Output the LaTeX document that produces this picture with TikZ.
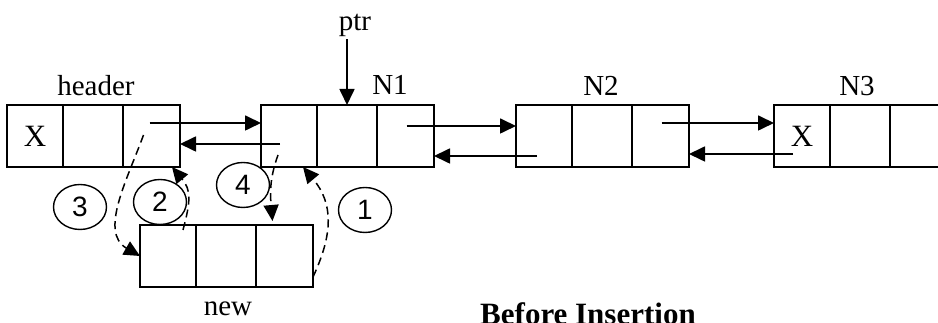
\documentclass[tikz,border=0pt]{standalone}
\usepackage{fontspec}
\setmainfont{Liberation Serif}
\setsansfont{Liberation Sans}
\usetikzlibrary{arrows.meta,positioning,calc,shapes.geometric}

\begin{document}
\begin{tikzpicture}[x=1pt,y=1pt,
    cellA/.style={draw, line width=1.8pt, minimum width=56pt, minimum height=62pt,
      inner sep=0pt, outer sep=0pt, font=\fontsize{31}{34}\selectfont},
    cellB/.style={cellA, minimum width=60pt},
    cellC/.style={cellA, minimum width=57pt},
    lbl/.style={anchor=base, inner sep=2pt, font=\fontsize{29}{32}\selectfont},
    arr/.style={-{Triangle[length=16pt,width=15pt]}, line width=1.7pt},
    dsh/.style={arr, line width=1.5pt, dash pattern=on 8pt off 5pt},
    circ/.style={draw, ellipse, line width=1.4pt, minimum width=53pt, minimum height=45pt,
      inner sep=0pt, font=\sffamily\fontsize{28}{28}\selectfont}]
    % Page is 938 x 323, 1pt per pixel, y measured from the bottom.
    \useasboundingbox (0,0) rectangle (938,323);
    \clip (0,0) rectangle (938,323);

    % list nodes: three cells each
    \foreach \nm/\x/\y/\first in {hd/35/187/X, na/289/187/{}, nb/544/187/{}, nc/802/187/X, nw/168/67/{}} {
      \node[cellA] (\nm1) at (\x,\y) {\first};
      \node[cellB, right=0pt of \nm1] (\nm2) {};
      \node[cellC, right=0pt of \nm2] (\nm3) {};
    }

    \node[lbl] (hdlbl) at (96,227) {header};
    \node[lbl] (nalbl) at (390,228) {N1};
    \node[lbl] (nblbl) at (601,227) {N2};
    \node[lbl] (nclbl) at (857,227) {N3};
    \node[lbl] (nwlbl) at (228,7) {new};
    \node[lbl] (ptr) at (355,292) {ptr};
    \node[lbl, font=\bfseries\fontsize{31}{34}\selectfont] (title) at (588,-2) {Before Insertion};

    \draw[arr] (ptr.south -| na2.north) -- (na2.north);

    % next / prev links
    \draw[arr] ($(hd3.center)+(-2,13)$) -- ($(na1.west)+(0,13)$);
    \draw[arr] ($(na1.center)+(-9,-8)$) -- ($(hd3.east)+(0,-8)$);
    \draw[arr] ($(na3.center)+(1,10)$) -- ($(nb1.west)+(0,10)$);
    \draw[arr] ($(nb1.center)+(-7,-20)$) -- ($(na3.east)+(0,-20)$);
    \draw[arr] ($(nb3.center)+(1,13)$) -- ($(nc1.west)+(0,13)$);
    \draw[arr] ($(nc1.center)+(-9,-18)$) -- ($(nb3.east)+(0,-18)$);

    % insertion steps
    \draw[dsh] ($(na1.center)+(-11,-19)$) to[out=250,in=95] ($(nw3.north)+(-12,4)$);
    \draw[dsh] ($(nw3.east)+(0,-21)$) to[out=65,in=-50,looseness=1.1] ($(na1.south)+(14,0)$);
    \draw[dsh] ($(hd3.center)+(-8,1)$) to[out=250,in=150] (nw1.west);
    \draw[dsh] ($(nw1.north east)+(-13,-5)$) to[out=75,in=-50,looseness=1.2] ($(hd3.south east)+(-8,0)$);

    \node[circ] (s1) at (365,113) {1};
    \node[circ] (s2) at (160,121) {2};
    \node[circ] (s3) at (80,116) {3};
    \node[circ] (s4) at (243,138) {4};
  \end{tikzpicture}
\end{document}
